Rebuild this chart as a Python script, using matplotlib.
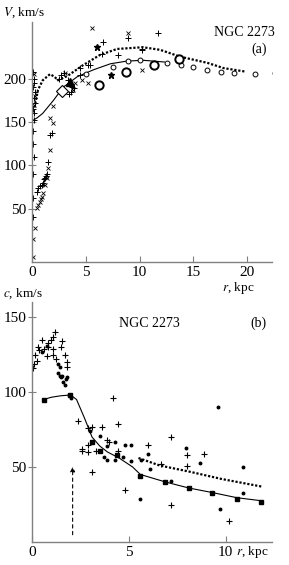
import numpy as np
import matplotlib
matplotlib.use("Agg")
import matplotlib.pyplot as plt

plt.rcParams['font.family'] = ['Liberation Serif', 'DejaVu Serif']
plt.rcParams['mathtext.fontset'] = 'stix'

# ---- panel (a): rotation curve ----
# model curves
kurva_padat_r = [0.1, 0.5, 1.0, 2.0, 2.9, 4.2, 5.7, 7.3, 8.8, 10.3, 12.3]
kurva_padat_V = [152, 155, 160, 175, 190, 202, 210, 217, 220, 221, 219]
kurva_putus_r = [0.15, 0.56, 1.0, 1.67, 2.1, 2.4, 3.3, 4.7, 6.3, 7.9, 10.3, 11.9, 13.8, 16.3, 17.8, 19.8]
kurva_putus_V = [162, 187, 198, 205, 202, 198, 203, 215, 227, 234, 236, 233, 225, 218, 212, 208]

# observed points
plus_r = [0.1, 0.15, 0.2, 0.1, 0.25, 0.15, 0.3, 0.1, 0.2, 0.15, 0.05, 0.1, 0.2, 0.1, 0.1, 0.05,
          0.5, 0.6, 0.75, 0.9, 1.0, 1.1, 1.2, 1.3, 1.4, 1.45, 1.7, 1.85,
          2.5, 2.7, 3.0, 3.3, 3.4, 3.6, 3.7, 3.9, 4.5, 4.5, 5.2, 5.4, 6.5, 6.6, 8.0, 8.9, 10.2, 10.2, 11.7]
plus_V = [208, 200, 195, 190, 185, 178, 172, 165, 160, 152, 140, 125, 110, 90, 63, 41,
          70, 74, 76, 78, 80, 84, 86, 88, 90, 104, 135, 137,
          200, 204, 206, 198, 182, 184, 190, 189, 212, 204, 215, 215, 228, 242, 227, 247, 233, 234, 252]
silang_r = [0.2, 0.3, 0.15, 0.3, 0.1, 0.05,
            0.5, 0.6, 0.7, 0.8, 0.9, 1.0, 1.2, 1.35, 1.5, 1.67, 1.7, 1.95, 1.95,
            3.1, 3.8, 4.0, 4.6, 5.2, 5.6, 8.9, 10.2]
silang_V = [205, 180, 170, 28, 15, -5,
            51, 55, 58, 61, 64, 68, 78, 86, 97, 118, 155, 149, 168,
            206, 187, 195, 198, 195, 258, 252, 210]
bulat_kecil_r = [5.0, 7.5, 8.9, 10.0, 12.5, 13.8, 15.0, 16.3, 17.6, 18.8, 20.7, 22.6]
bulat_kecil_V = [205, 213, 220, 221, 218, 215, 213, 210, 208, 206, 205, 206]
bulat_besar_r = [6.2, 8.7, 11.3, 13.7]
bulat_besar_V = [193, 207, 216, 222]
bintang_r = [6.0, 7.3]
bintang_V = [236, 204]
segitiga_r = [3.5]
segitiga_V = [196]
belah_r = [2.8]
belah_V = [186]

# ---- panel (b): velocity dispersion ----
model_c_r = [0.6, 1.0, 1.5, 2.0, 2.3, 2.7, 3.1, 3.5, 3.9, 4.5, 5.2, 5.6, 6.9, 8.1, 9.3, 10.6, 11.85]
model_c_v = [95, 96.5, 97.5, 98, 95, 83, 70, 64, 60, 56, 50, 45, 40, 36, 33, 29.5, 27.5]
kotak_r = [0.6, 1.96, 3.1, 3.5, 4.4, 5.6, 6.86, 8.1, 9.3, 10.6, 11.85]
kotak_c = [95, 98, 67, 61, 58, 44, 40, 36, 33, 29, 27]
putus_c_r = [5.5, 6.6, 8.1, 9.8, 11.85]
putus_c_v = [56, 51, 47, 42, 37]

plus_c_r = [1.19, 1.1, 0.96, 0.5, 1.53, 0.84, 0.3, 0.6, 0.85, 1.1, 1.5, 0.38, 0.15, 0.76, 1.1,
            1.24, 1.7, 0.24, 0.1, 0.03, 1.79, 1.79, 4.16,
            2.4, 2.9, 3.1, 3.6, 4.45, 2.9, 2.6, 2.6, 2.9, 3.3, 3.85, 4.0, 4.45, 3.1, 4.8,
            7.2, 6.0, 8.0, 8.9, 8.0, 6.65, 7.2, 10.2]
plus_c = [140, 137, 135, 135, 134, 133, 130, 129, 130, 129, 130, 128, 125, 124, 125,
          122, 125, 121, 119, 116, 120, 117, 96,
          81, 76, 77, 77, 79, 65, 62, 61, 60, 61, 68, 67, 61, 47, 35,
          70, 65, 58, 59, 51, 52, 25, 14]
titik_c_r = [1.36, 1.44, 1.36, 1.44, 1.48, 1.56, 1.79, 1.75, 1.6, 1.7, 1.9, 2.0, 0.5, 0.8,
             3.0, 3.5, 4.3, 4.8, 5.1, 3.7, 3.9, 4.3, 4.7, 5.1, 5.65, 5.57, 3.9,
             6.0, 7.95, 8.7, 10.9, 6.1, 7.2, 10.9, 9.7, 9.6]
titik_c = [119, 117, 113, 111, 110, 111, 110, 109, 107, 105, 98, 96, 127, 131,
           74, 71, 67, 65, 65, 57, 55, 55, 57, 54, 55, 29, 64,
           59, 63, 53, 50, 49, 41, 33, 22, 90]

panah_r = 2.1

W, H = 289, 565
fig = plt.figure(figsize=(W / 100, H / 100), dpi=100)

def kotak_sumbu(x0, y0, x1, y1):
    return [x0 / W, 1 - y1 / H, (x1 - x0) / W, (y1 - y0) / H]

warna_sumbu = '#808080'

def gaya_sumbu(ax):
    for s in ['top', 'right']:
        ax.spines[s].set_visible(False)
    for s in ['left', 'bottom']:
        ax.spines[s].set_color(warna_sumbu)
        ax.spines[s].set_linewidth(1.0)
    ax.tick_params(axis='x', direction='in', length=4, color=warna_sumbu, labelsize=11, pad=3)
    ax.tick_params(axis='y', direction='inout', length=6, color=warna_sumbu, labelsize=11, pad=1)

# panel (a)
ax1 = fig.add_axes(kotak_sumbu(32, 22, 272, 262))
gaya_sumbu(ax1)
ax1.set_xlim(0, 22.3)
ax1.set_ylim(-11, 265)
ax1.set_xticks([0, 5, 10, 15, 20])
ax1.set_yticks([50, 100, 150, 200])
ax1.plot(kurva_padat_r, kurva_padat_V, color='black', lw=0.8)
ax1.plot(kurva_putus_r, kurva_putus_V, color='black', lw=1.6, ls=(0, (1.0, 0.8)))
ax1.plot(plus_r, plus_V, ls='none', marker='+', ms=4.5, mew=0.7, color='black')
ax1.plot(silang_r, silang_V, ls='none', marker='x', ms=3, mew=0.6, color='black')
ax1.plot(bulat_kecil_r, bulat_kecil_V, ls='none', marker='o', ms=3.5, mfc='white', mec='black', mew=0.7)
ax1.plot(bulat_besar_r, bulat_besar_V, ls='none', marker='o', ms=6, mfc='white', mec='black', mew=1.4)
ax1.plot(bintang_r, bintang_V, ls='none', marker='*', ms=5, color='black')
ax1.plot(segitiga_r, segitiga_V, ls='none', marker='^', ms=6, color='black')
ax1.plot(belah_r, belah_V, ls='none', marker='D', ms=6, mfc='white', mec='black', mew=0.8)
ax1.text(1.01, 0.955, 'NGC 2273', transform=ax1.transAxes, ha='right', va='center', fontsize=10)
ax1.text(0.98, 0.885, '(a)', transform=ax1.transAxes, ha='right', va='center', fontsize=10)
fig.text(3 / W, 1 - 13 / H, '$V$, km/s', ha='left', va='center', fontsize=9.5)
fig.text(238 / W, 1 - 288 / H, '$r$, kpc', ha='center', va='center', fontsize=9.5)

# panel (b)
ax2 = fig.add_axes(kotak_sumbu(32, 302, 272, 542))
gaya_sumbu(ax2)
ax2.set_xlim(0, 12.4)
ax2.set_ylim(0, 160)
ax2.set_xticks([0, 5, 10])
ax2.set_yticks([50, 100, 150])
ax2.plot(model_c_r, model_c_v, color='black', lw=0.8)
ax2.plot(kotak_r, kotak_c, ls='none', marker='s', ms=3.2, color='black')
ax2.plot(putus_c_r, putus_c_v, color='black', lw=1.6, ls=(0, (1.0, 0.8)))
ax2.plot(plus_c_r, plus_c, ls='none', marker='+', ms=5, mew=0.8, color='black')
ax2.plot(titik_c_r, titik_c, ls='none', marker='o', ms=1.8, color='black')
ax2.annotate('', xy=(panah_r, 52), xytext=(panah_r, 3),
             arrowprops=dict(arrowstyle='-|>', ls=(0, (3, 3)), lw=0.8, color='black',
                             mutation_scale=7))
ax2.text(0.49, 0.912, 'NGC 2273', transform=ax2.transAxes, ha='center', va='center', fontsize=10)
ax2.text(0.979, 0.912, '(b)', transform=ax2.transAxes, ha='right', va='center', fontsize=10)
fig.text(3 / W, 1 - 294 / H, '$c$, km/s', ha='left', va='center', fontsize=9.5)
fig.text(252 / W, 1 - 552 / H, '$r$, kpc', ha='center', va='center', fontsize=9.5)

plt.savefig('out.png', dpi=100)
